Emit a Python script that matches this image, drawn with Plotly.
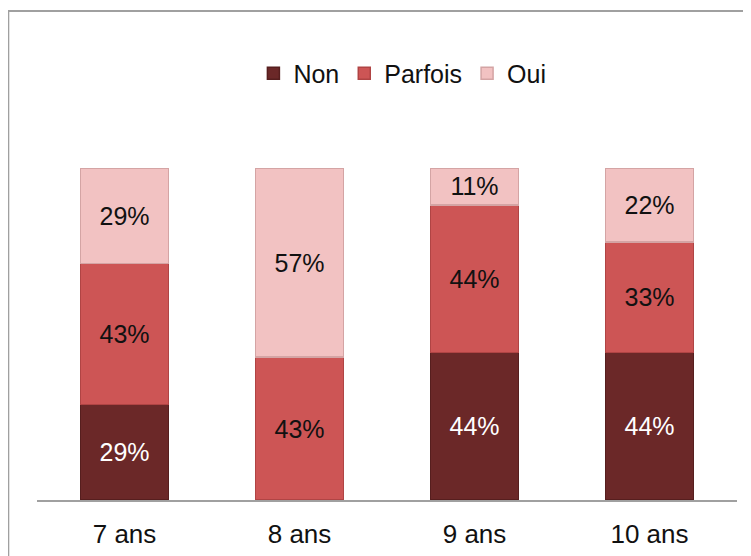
import plotly.graph_objects as go

categories = ["7 ans", "8 ans", "9 ans", "10 ans"]
non = [29, 0, 44, 44]
parfois = [43, 43, 44, 33]
oui = [29, 57, 11, 22]

series = [
    ("Non", non, "#6B2828", "#561E1E", "white"),
    ("Parfois", parfois, "#CD5555", "#B04444", "#111111"),
    ("Oui", oui, "#F2C2C2", "#D4A4A4", "#111111"),
]

fig = go.Figure()
for name, vals, color, edge, txt in series:
    fig.add_trace(
        go.Bar(
            x=categories,
            y=vals,
            name=name,
            marker=dict(color=color, line=dict(color=edge, width=1.5)),
            text=[f"{v}%" if v else "" for v in vals],
            textposition="inside",
            insidetextanchor="middle",
            textfont=dict(color=txt, size=25, family="Liberation Sans, Arial"),
            constraintext="none",
        )
    )

# the page adds an 8px body margin, so margins are offset by it
fig.update_layout(
    barmode="stack",
    barnorm="percent",
    bargap=0.497,
    width=751,
    height=556,
    margin=dict(l=29, r=22, t=160, b=64),
    plot_bgcolor="white",
    paper_bgcolor="white",
    font=dict(family="Liberation Sans, Arial", size=25, color="#111111"),
    showlegend=True,
    legend=dict(
        orientation="h",
        x=0.522,
        xanchor="center",
        y=1.285,
        yanchor="middle",
        font=dict(size=25),
        itemwidth=30,
        traceorder="normal",
    ),
    xaxis=dict(
        showline=True,
        linecolor="#A0A0A0",
        linewidth=2,
        ticks="",
        tickfont=dict(size=26),
        ticklabelstandoff=10,
        showgrid=False,
    ),
    yaxis=dict(range=[0, 100], visible=False, showgrid=False),
    uniformtext=dict(minsize=25, mode="show"),
)

# light frame around the chart area
fig.add_shape(
    type="rect",
    xref="paper",
    yref="paper",
    x0=-0.041,
    x1=1.1,
    y0=-0.3,
    y1=1.473,
    line=dict(color="#A0A0A0", width=2),
    fillcolor="rgba(0,0,0,0)",
    layer="below",
)

fig.write_html("out.html")
